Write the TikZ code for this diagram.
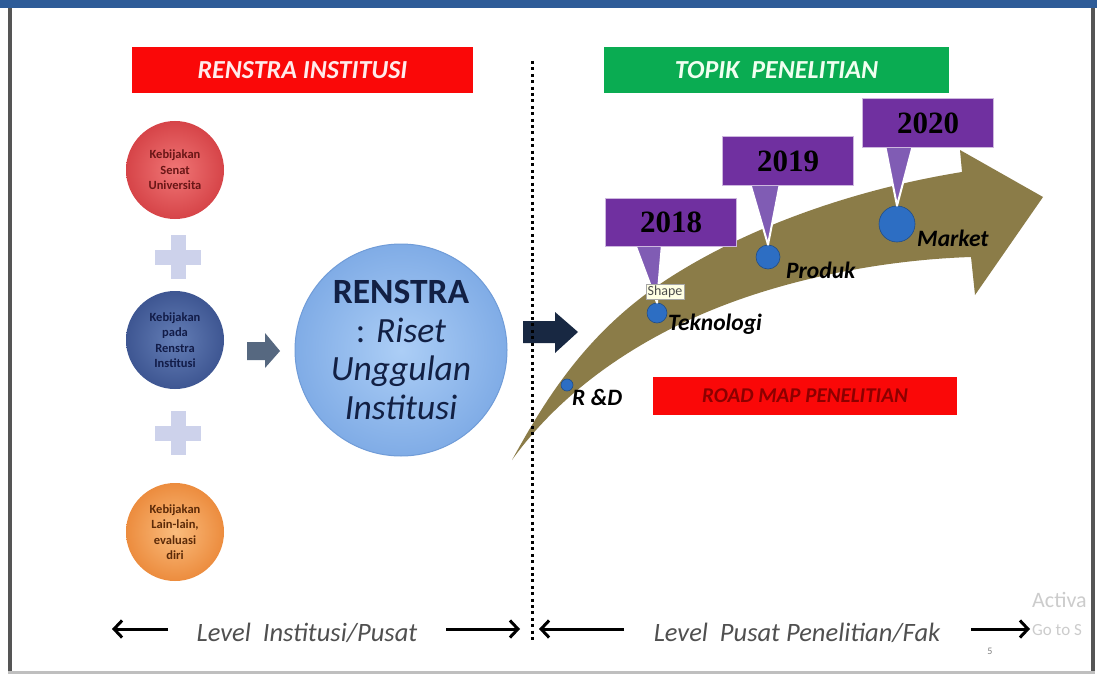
\documentclass[tikz,border=0pt]{standalone}
\usepackage{fontspec}
\setmainfont{Carlito}
\newfontfamily\yearfont{Liberation Serif}
\usetikzlibrary{calc,arrows.meta}

\definecolor{topblue}{RGB}{46,92,152}
\definecolor{framegray}{RGB}{85,85,85}
\definecolor{hdrred}{RGB}{250,8,8}
\definecolor{hdrgreen}{RGB}{10,172,82}
\definecolor{olivearrow}{RGB}{139,124,72}
\definecolor{yearpurple}{RGB}{112,48,160}
\definecolor{pinpurple}{RGB}{128,92,180}
\definecolor{dotblue}{RGB}{45,110,195}
\definecolor{navyarrow}{RGB}{24,40,66}
\definecolor{grayarrow}{RGB}{86,104,128}
\definecolor{plusgray}{RGB}{205,210,235}
\definecolor{levelgray}{RGB}{80,80,80}

\tikzset{
  hdr/.style={minimum height=46pt, inner sep=0pt, font=\fontsize{26}{26}\selectfont\bfseries\itshape},
  policy/.style={circle, minimum size=98pt, inner sep=0pt, align=center, font=\fontsize{12.5}{15.5}\selectfont\bfseries},
  yearbox/.style={fill=yearpurple, draw=yearpurple!35, line width=1pt, minimum width=131pt, minimum height=48pt, inner sep=0pt, font=\fontsize{31}{31}\yearfont\bfseries},
  stage/.style={circle, fill=dotblue, draw=dotblue!70!black, line width=0.6pt, inner sep=0pt},
  stagelbl/.style={anchor=west, inner sep=0pt, font=\fontsize{23.5}{23.5}\selectfont\bfseries\itshape},
  pin/.style={fill=pinpurple, draw=white, line width=2pt, line join=round},
  levelarrow/.style={line width=3pt, -{Straight Barb[length=8pt,width=17pt]}},
  leveltext/.style={text=levelgray, inner sep=0pt, font=\fontsize{26.5}{26.5}\selectfont\itshape}
}

\begin{document}
\begin{tikzpicture}[x=1pt,y=-1pt]
  \useasboundingbox (0,0) rectangle (1097,674);
  \fill[white] (0,0) rectangle (1097,674);

  % headers
  \node[hdr, fill=hdrred, minimum width=341pt, text=red!8!white] (hdrleft) at (302.5,70) {RENSTRA INSTITUSI};
  \node[hdr, fill=hdrgreen, minimum width=345pt, text=green!6!white] (hdrright) at (776.5,70) {TOPIK\ \ PENELITIAN};

  % policy circles on the left
  \node[policy, inner color={rgb,255:red,240;green,118;blue,118}, outer color={rgb,255:red,214;green,68;blue,72}, text={rgb,255:red,105;green,22;blue,22}] (senat) at (175,170) {Kebijakan\\Senat\\Universita};
  \node[policy, inner color={rgb,255:red,100;green,126;blue,182}, outer color={rgb,255:red,62;green,86;blue,146}, text={rgb,255:red,18;green,28;blue,72}] (kebinst) at (175,340) {Kebijakan\\pada\\Renstra\\Institusi};
  \node[policy, inner color={rgb,255:red,250;green,188;blue,125}, outer color={rgb,255:red,236;green,140;blue,62}, text={rgb,255:red,92;green,42;blue,8}] (lain) at (175,532) {Kebijakan\\Lain-lain,\\evaluasi\\diri};

  % plus signs
  \coordinate (plusa) at (178,257);
  \coordinate (plusb) at (178,433);
  \foreach \p in {plusa,plusb} {
    \fill[plusgray] ($(\p)+(-23,-7.5)$) rectangle ($(\p)+(23,7.5)$);
    \fill[plusgray] ($(\p)+(-7.5,-22)$) rectangle ($(\p)+(7.5,22)$);
  }

  % grey block arrow into the big circle
  \coordinate (garr) at (247,351);
  \fill[grayarrow] (garr) ++(0,-9) -- ++(18,0) -- ++(0,-9) -- ++(15,18) -- ++(-15,17) -- ++(0,-8) -- ++(-18,0) -- cycle;

  % big circle
  \node[circle, minimum size=212pt, inner sep=0pt, align=center,
        inner color={rgb,255:red,172;green,206;blue,246}, outer color={rgb,255:red,128;green,172;blue,230},
        draw={rgb,255:red,112;green,156;blue,216}, line width=1pt,
        text={rgb,255:red,18;green,32;blue,68}, font=\fontsize{35.5}{38.5}\selectfont] (renstra) at (401,350)
        {\textbf{RENSTRA}\\: \textit{Riset}\\\textit{Unggulan}\\\textit{Institusi}};

  % navy block arrow
  \coordinate (narr) at (523,332);
  \fill[navyarrow] (narr) ++(0,-11) -- ++(32,0) -- ++(0,-9) -- ++(23,20) -- ++(-23,21) -- ++(0,-10) -- ++(-32,0) -- cycle;

  % road map arrow
  \fill[olivearrow] (512,460) .. controls (545,400) and (585,335) .. (660,284)
    .. controls (740,230) and (850,190) .. (962,172)
    -- (960,150) -- (1043,197) -- (975,295) -- (971,257)
    .. controls (880,260) and (780,280) .. (700,315)
    .. controls (620,350) and (555,400) .. (512,460) -- cycle;

  % divider
  \coordinate (divtop) at (532,61);
  \coordinate (divbot) at (532,641);
  \draw[line width=3pt, dash pattern=on 3pt off 3.4pt] (divtop) -- (divbot);

  % stages
  \node[stage, minimum size=12pt] (rnd) at (567,385) {};
  \node[stage, minimum size=20pt] (tek) at (657,313) {};
  \node[stage, minimum size=24pt] (prod) at (768,257) {};
  \node[stage, minimum size=36pt] (mkt) at (897,224) {};

  % year callouts
  \coordinate (c2018) at (671,222);
  \coordinate (c2019) at (788,161);
  \coordinate (c2020) at (928,123);
  \filldraw[pin] ($(c2018)+(-36,22)$) -- (tek.north) -- ($(c2018)+(-9,22)$) -- cycle;
  \filldraw[pin] ($(c2019)+(-38,22)$) -- (prod.north) -- ($(c2019)+(-8,22)$) -- cycle;
  \filldraw[pin] ($(c2020)+(-43,22)$) -- (mkt.north) -- ($(c2020)+(-15,22)$) -- cycle;
  \node[yearbox] (y2018) at (c2018) {2018};
  \node[yearbox] (y2019) at (c2019) {2019};
  \node[yearbox] (y2020) at (c2020) {2020};

  \node[stagelbl] (rndlbl) at (572,397) {R \&D};
  \node[stagelbl] (teklbl) at (668,324) {Teknologi};
  \node[stagelbl] (prodlbl) at (786,270) {Produk};
  \node[stagelbl] (mktlbl) at (917,238) {Market};

  \node[fill={rgb,255:red,255;green,255;blue,228}, draw=gray!70, line width=0.5pt, inner sep=1.5pt,
        text=black!70, font=\fontsize{14}{14}\selectfont] (shapetip) at (665,292) {Shape};

  \node[fill=hdrred, minimum width=304pt, minimum height=38pt, inner sep=0pt,
        text={rgb,255:red,140;green,0;blue,0}, font=\fontsize{21}{21}\selectfont\bfseries\itshape] (roadmap) at (805,396) {ROAD MAP PENELITIAN};

  % levels
  \node[leveltext] (lvlinst) at (307,633) {Level\ \ Institusi/Pusat};
  \node[leveltext] (lvlfak) at (797,633) {Level\ \ Pusat Penelitian/Fak};
  \coordinate (a1) at (168,629); \coordinate (a2) at (112,629);
  \coordinate (b1) at (446,629); \coordinate (b2) at (520,629);
  \coordinate (c1) at (624,629); \coordinate (c2) at (539,629);
  \coordinate (d1) at (971,629); \coordinate (d2) at (1030,629);
  \draw[levelarrow] (a1) -- (a2);
  \draw[levelarrow] (b1) -- (b2);
  \draw[levelarrow] (c1) -- (c2);
  \draw[levelarrow] (d1) -- (d2);
  \node[text=black!50, font=\fontsize{10}{10}\selectfont] (pagenum) at (990,651) {5};
  \node[anchor=west, inner sep=0pt, text=black!20, font=\fontsize{22}{22}\selectfont] (activa) at (1032,600) {Activa};
  \node[anchor=west, inner sep=0pt, text=black!20, font=\fontsize{17}{17}\selectfont] (goto) at (1032,630) {Go to S};

  % frame
  \fill[white] (1095,0) rectangle (1097,674);
  \fill[topblue] (0,0) rectangle (1097,8);
  \fill[framegray] (8,8) rectangle (12,674);
  \fill[framegray] (1091,8) rectangle (1095,674);
  \fill[black!25] (8,671) rectangle (1095,674);
\end{tikzpicture}
\end{document}
